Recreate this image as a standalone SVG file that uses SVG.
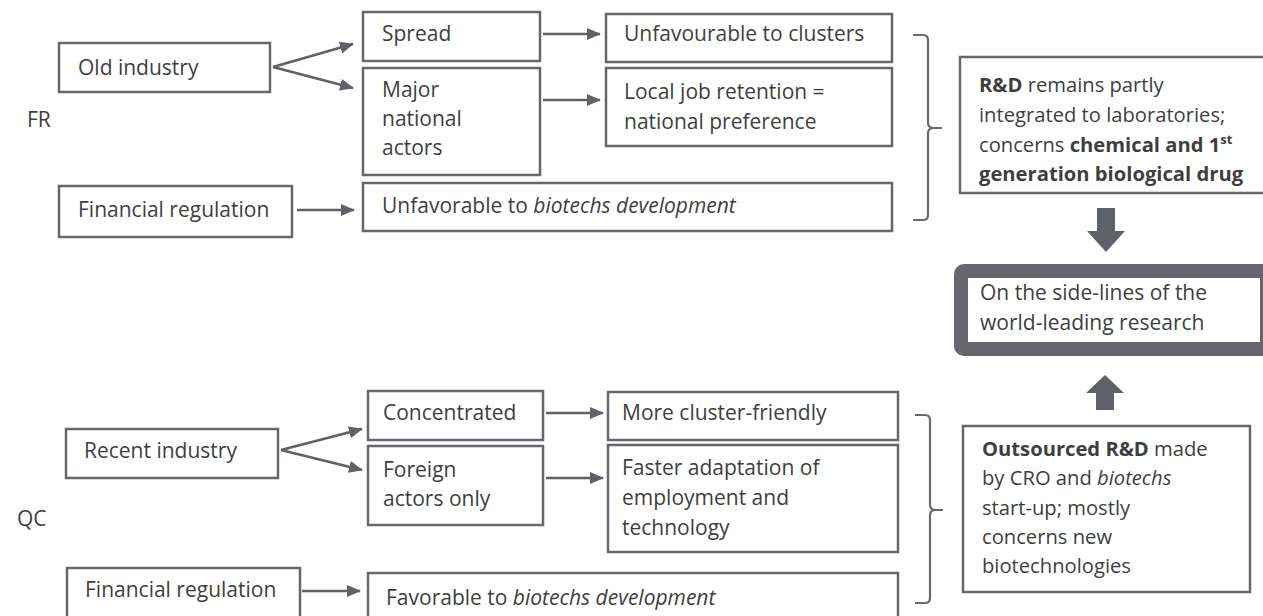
<svg xmlns="http://www.w3.org/2000/svg" width="1263" height="616" viewBox="0 0 1263 616">
<defs>
<style>
.box{fill:#fff;stroke:#65676d;stroke-width:2.5}
.thick{fill:#fff;stroke:#65676d;stroke-width:14}
.t{font-family:"Open Sans","Liberation Sans",sans-serif;font-size:21px;fill:#3d3f3e}
.s{font-size:20.2px}
.b{font-weight:bold}
.i{font-style:italic}
.con{stroke:#5f6168;stroke-width:2.5;fill:none}
.brace{stroke:#6a6b70;stroke-width:2.2;fill:none}
.blk{fill:#5f6168}
</style>
<marker id="ah" markerUnits="userSpaceOnUse" markerWidth="14" markerHeight="12" refX="13" refY="6" orient="auto">
<path d="M0,0 L14,6 L0,12 Z" fill="#5f6168"/>
</marker>
</defs>
<rect width="1263" height="616" fill="#fff"/>

<text class="t" x="27" y="127">FR</text>
<text class="t" x="17" y="526">QC</text>

<g id="connectors">
<path class="con" d="M273,67 L353,44" marker-end="url(#ah)"/>
<path class="con" d="M273,67 L353,88" marker-end="url(#ah)"/>
<path class="con" d="M543,34 L600,34" marker-end="url(#ah)"/>
<path class="con" d="M543,100 L600,100" marker-end="url(#ah)"/>
<path class="con" d="M297,210 L354,210" marker-end="url(#ah)"/>
<path class="con" d="M281,450 L362,429" marker-end="url(#ah)"/>
<path class="con" d="M281,450 L362,470" marker-end="url(#ah)"/>
<path class="con" d="M546,413 L603,413" marker-end="url(#ah)"/>
<path class="con" d="M546,478 L603,478" marker-end="url(#ah)"/>
<path class="con" d="M302,591 L360,591" marker-end="url(#ah)"/>
<path class="brace" d="M913,35 H923 Q928,35 928,40 V123 Q928,128 934,128 H942 M934,128 Q928,128 928,133 V215 Q928,220 923,220 H913"/>
<path class="brace" d="M915,415 H925 Q930,415 930,420 V505 Q930,510 936,510 H943 M936,510 Q930,510 930,515 V598 Q930,603 925,603 H915"/>
<path class="blk" d="M1097,208 H1115 V231 H1125 L1106,252 L1087,231 H1097 Z"/>
<path class="blk" d="M1096,410 H1114 V393 H1124 L1105,375 L1086,393 H1096 Z"/>
</g>

<g id="old-industry"><rect class="box" x="59" y="43" width="211" height="49"/><text class="t" x="78" y="75">Old industry</text></g>
<g id="spread"><rect class="box" x="363" y="12" width="177" height="49"/><text class="t" x="382" y="41">Spread</text></g>
<g id="major-national-actors"><rect class="box" x="363" y="68" width="177" height="107"/>
<text class="t" x="382" y="97">Major</text><text class="t" x="382" y="126">national</text><text class="t" x="382" y="155">actors</text></g>
<g id="unfavourable-clusters"><rect class="box" x="606" y="14" width="286" height="48"/><text class="t" x="624" y="41">Unfavourable to clusters</text></g>
<g id="local-job"><rect class="box" x="606" y="68" width="286" height="78"/>
<text class="t" x="624" y="99">Local job retention =</text><text class="t" x="624" y="129">national preference</text></g>
<g id="financial-regulation-fr"><rect class="box" x="59" y="186" width="233" height="51"/><text class="t" x="78" y="217">Financial regulation</text></g>
<g id="unfavorable-biotechs"><rect class="box" x="363" y="183" width="529" height="48"/>
<text class="t" x="382" y="213">Unfavorable to <tspan class="i">biotechs development</tspan></text></g>

<g id="rd-fr"><rect class="box" x="960" y="57" width="306" height="136"/>
<text class="t s" x="979" y="92"><tspan class="b">R&amp;D</tspan> remains partly</text>
<text class="t s" x="979" y="122">integrated to laboratories;</text>
<text class="t s" x="979" y="152">concerns <tspan class="b">chemical and 1<tspan font-size="13" dy="-8">st</tspan></tspan></text>
<text class="t s b" x="979" y="181">generation biological drug</text></g>

<g id="side-lines"><rect class="thick" x="961" y="271" width="306" height="78" rx="3"/>
<text class="t" x="980" y="300">On the side-lines of the</text>
<text class="t" x="980" y="330">world-leading research</text></g>

<g id="outsourced"><rect class="box" x="963" y="426" width="287" height="166"/>
<text class="t s" x="982" y="456"><tspan class="b">Outsourced R&amp;D</tspan> made</text>
<text class="t s" x="982" y="485">by CRO and <tspan class="i">biotechs</tspan></text>
<text class="t s" x="982" y="515">start-up; mostly</text>
<text class="t s" x="982" y="544">concerns new</text>
<text class="t s" x="982" y="573">biotechnologies</text></g>

<g id="recent-industry"><rect class="box" x="66" y="429" width="212" height="49"/><text class="t" x="84" y="458">Recent industry</text></g>
<g id="concentrated"><rect class="box" x="368" y="391" width="175" height="49"/><text class="t" x="383" y="420">Concentrated</text></g>
<g id="foreign-actors"><rect class="box" x="368" y="446" width="175" height="79"/>
<text class="t" x="383" y="477">Foreign</text><text class="t" x="383" y="506">actors only</text></g>
<g id="more-cluster-friendly"><rect class="box" x="608" y="392" width="290" height="48"/><text class="t" x="622" y="420">More cluster-friendly</text></g>
<g id="faster-adaptation"><rect class="box" x="608" y="445" width="290" height="107"/>
<text class="t" x="622" y="475">Faster adaptation of</text><text class="t" x="622" y="505">employment and</text><text class="t" x="622" y="535">technology</text></g>
<g id="financial-regulation-qc"><rect class="box" x="67" y="568" width="233" height="60"/><text class="t" x="85" y="597">Financial regulation</text></g>
<g id="favorable-biotechs"><rect class="box" x="368" y="573" width="530" height="60"/>
<text class="t" x="386" y="605">Favorable to <tspan class="i">biotechs development</tspan></text></g>
</svg>
